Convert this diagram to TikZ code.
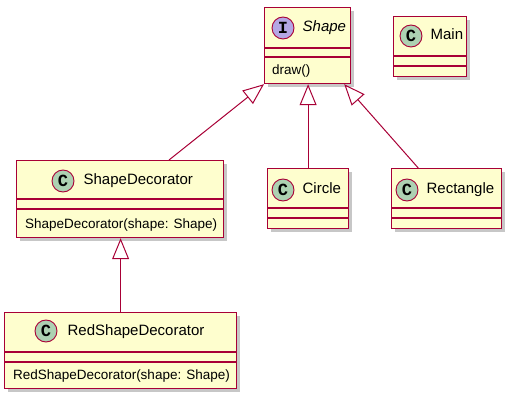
\documentclass[tikz,border=0pt]{standalone}
\usepackage{fontspec}
\setmainfont{Liberation Sans}
\setmonofont{Liberation Mono}
\usepackage{xcolor}
\usetikzlibrary{arrows.meta, positioning, calc, shadows}
\definecolor{umlborder}{HTML}{A80036}
\definecolor{umlfill}{HTML}{FEFECE}
\definecolor{classicon}{HTML}{ADD1B2}
\definecolor{ifaceicon}{HTML}{B4A7E5}
\tikzset{
  classbox/.style={draw=umlborder, fill=umlfill, line width=1.2pt, anchor=north west, inner sep=0pt,
    drop shadow={shadow xshift=3pt, shadow yshift=-3pt, fill=black, opacity=0.22}},
  icon/.style={circle, draw=umlborder, line width=0.9pt, minimum size=22pt, inner sep=0pt,
    font=\fontsize{17}{17}\selectfont\ttfamily\bfseries},
  classname/.style={inner sep=0pt, anchor=west, text height=11pt, text depth=3pt,
    font=\fontsize{15}{17}\selectfont},
  method/.style={inner sep=0pt, anchor=west, text height=10pt, text depth=2.5pt,
    font=\fontsize{13.5}{15}\selectfont},
  sepline/.style={draw=umlborder, line width=1.2pt},
  inherit/.style={draw=umlborder, line width=1pt, -{Triangle[open, length=21pt, width=17pt]}}
}
\begin{document}
\begin{tikzpicture}[x=1pt, y=-1pt]
\useasboundingbox (0,0) rectangle (516,403);
% interface Shape
\node[classbox, minimum width=86pt, minimum height=76pt] (shape) at (264,7) {};
\node[icon, fill=ifaceicon] (shapeIcon) at (283,28) {I};
\node[classname, font=\fontsize{15}{17}\selectfont\itshape, right=8pt of shapeIcon] (shapeName) {Shape};
\draw[sepline] ([yshift=-41pt]shape.north west) -- ([yshift=-41pt]shape.north east);
\draw[sepline] ([yshift=-50pt]shape.north west) -- ([yshift=-50pt]shape.north east);
\node[method] (shapeDraw) at ([xshift=8pt, yshift=-64pt]shape.north west) {draw()};
% class Main
\node[classbox, minimum width=73pt, minimum height=60pt] (main) at (393,16) {};
\node[icon, fill=classicon] (mainIcon) at (411,36) {C};
\node[classname, right=8pt of mainIcon] (mainName) {Main};
\draw[sepline] ([yshift=-40pt]main.north west) -- ([yshift=-40pt]main.north east);
\draw[sepline] ([yshift=-50pt]main.north west) -- ([yshift=-50pt]main.north east);
% class ShapeDecorator
\node[classbox, minimum width=207pt, minimum height=77pt] (decorator) at (16,160) {};
\node[icon, fill=classicon] (decoratorIcon) at (63,181) {C};
\node[classname, right=9pt of decoratorIcon] (decoratorName) {ShapeDecorator};
\draw[sepline] ([yshift=-39pt]decorator.north west) -- ([yshift=-39pt]decorator.north east);
\draw[sepline] ([yshift=-49pt]decorator.north west) -- ([yshift=-49pt]decorator.north east);
\node[method] (decoratorCtor) at ([xshift=9pt, yshift=-65pt]decorator.north west) {ShapeDecorator(shape: Shape)};
% class Circle
\node[classbox, minimum width=81pt, minimum height=60pt] (circle) at (267,168) {};
\node[icon, fill=classicon] (circleIcon) at (283,190) {C};
\node[classname, right=8pt of circleIcon] (circleName) {Circle};
\draw[sepline] ([yshift=-40pt]circle.north west) -- ([yshift=-40pt]circle.north east);
\draw[sepline] ([yshift=-50pt]circle.north west) -- ([yshift=-50pt]circle.north east);
% class Rectangle
\node[classbox, minimum width=110pt, minimum height=60pt] (rect) at (391,168) {};
\node[icon, fill=classicon] (rectIcon) at (407,190) {C};
\node[classname, right=8pt of rectIcon] (rectName) {Rectangle};
\draw[sepline] ([yshift=-40pt]rect.north west) -- ([yshift=-40pt]rect.north east);
\draw[sepline] ([yshift=-50pt]rect.north west) -- ([yshift=-50pt]rect.north east);
% class RedShapeDecorator
\node[classbox, minimum width=232pt, minimum height=76pt] (redDecorator) at (4,312) {};
\node[icon, fill=classicon] (redIcon) at (46,331) {C};
\node[classname, right=10pt of redIcon] (redName) {RedShapeDecorator};
\draw[sepline] ([yshift=-40pt]redDecorator.north west) -- ([yshift=-40pt]redDecorator.north east);
\draw[sepline] ([yshift=-50pt]redDecorator.north west) -- ([yshift=-50pt]redDecorator.north east);
\node[method] (redCtor) at ([xshift=9pt, yshift=-64pt]redDecorator.north west) {RedShapeDecorator(shape: Shape)};
% inheritance
\draw[inherit] ($(decorator.north west)!0.735!(decorator.north east)$) -- (shape.south west);
\draw[inherit] (circle.north) -- (circle.north |- shape.south);
\draw[inherit] ($(rect.north west)!0.245!(rect.north east)$) -- ($(shape.south west)!0.92!(shape.south east)$);
\draw[inherit] (redDecorator.north) -- (redDecorator.north |- decorator.south);
\end{tikzpicture}
\end{document}
